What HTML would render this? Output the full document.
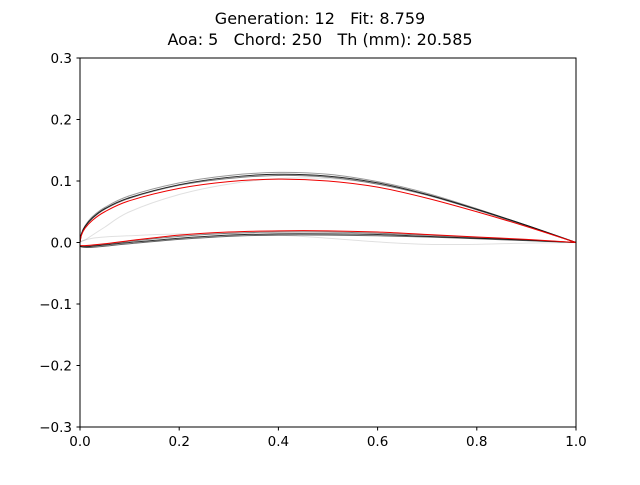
<!DOCTYPE html>
<html><head><meta charset="utf-8"><style>
body{margin:0;background:#fff;}
svg text{font-family:"DejaVu Sans","Liberation Sans",sans-serif;fill:#000;white-space:pre;}
</style></head><body>
<svg id="chart" width="640" height="480" xmlns="http://www.w3.org/2000/svg">
<rect width="640" height="480" fill="#fff"/>
<text x="320" y="24" text-anchor="middle" font-size="16" xml:space="preserve">Generation: 12   Fit: 8.759</text>
<text x="320" y="45" text-anchor="middle" font-size="16" xml:space="preserve">Aoa: 5   Chord: 250   Th (mm): 20.585</text>
<g id="plot"></g>
<rect x="80" y="58" width="496" height="369" fill="none" stroke="#000" stroke-width="1"/>
<g id="axes"></g>
</svg>
<script>
const xs=[0,0.003,0.01,0.025,0.05,0.1,0.2,0.3,0.4,0.5,0.6,0.7,0.8,0.9,1.0];
const xTicks=[0,0.2,0.4,0.6,0.8,1.0];
const xTickLabels=["0.0","0.2","0.4","0.6","0.8","1.0"];
const yTicks=[-0.3,-0.2,-0.1,0,0.1,0.2,0.3];
const yTickLabels=["\u22120.3","\u22120.2","\u22120.1","0.0","0.1","0.2","0.3"];
const faintUpper=[0,0.002,0.004,0.012,0.025,0.05,0.078,0.095,0.104,0.104,0.095,0.077,0.053,0.027,0];
const faintLower=[0,0.002,0.004,0.007,0.009,0.011,0.014,0.014,0.012,0.007,0.001,-0.003,-0.003,-0.001,0];
const blackUpper1=[0,0.014,0.026,0.04,0.055,0.073,0.094,0.106,0.111,0.108,0.097,0.078,0.054,0.028,0];
const blackUpper2=[0,0.015,0.027,0.042,0.057,0.076,0.097,0.109,0.114,0.111,0.099,0.08,0.055,0.028,0];
const blackUpper3=[0,0.013,0.025,0.039,0.054,0.072,0.093,0.104,0.109,0.106,0.095,0.077,0.053,0.027,0];
const blackLower1=[-0.006,-0.007,-0.007,-0.006,-0.004,0,0.007,0.012,0.014,0.014,0.013,0.01,0.007,0.004,0];
const blackLower2=[-0.005,-0.007,-0.008,-0.008,-0.006,-0.002,0.005,0.01,0.012,0.012,0.011,0.009,0.006,0.003,0];
const blackLower3=[-0.005,-0.006,-0.006,-0.005,-0.003,0.002,0.01,0.015,0.017,0.017,0.015,0.012,0.008,0.004,0];
const redUpper=[0,0.012,0.023,0.036,0.05,0.068,0.088,0.099,0.103,0.1,0.09,0.072,0.05,0.026,0];
const redLower=[-0.005,-0.005,-0.005,-0.004,-0.002,0.003,0.012,0.017,0.019,0.019,0.017,0.013,0.009,0.005,0];
const series=[
 {y:faintUpper,c:"#000",o:0.12,n:"faint-upper"},
 {y:faintLower,c:"#000",o:0.12,n:"faint-lower"},
 {y:blackUpper3,c:"#000",o:0.5,n:"upper-3"},
 {y:blackUpper2,c:"#000",o:0.4,n:"upper-2"},
 {y:blackUpper1,c:"#000",o:0.85,n:"upper-1"},
 {y:blackLower2,c:"#000",o:0.6,n:"lower-2"},
 {y:blackLower1,c:"#000",o:0.8,n:"lower-1"},
 {y:blackLower3,c:"#000",o:0.5,n:"lower-3"},
 {y:redUpper,c:"#e00",o:1,n:"red-upper"},
 {y:redLower,c:"#e00",o:1,n:"red-lower"}];
const X=v=>80+v*496, Y=v=>242.5-v*615;
const NS="http://www.w3.org/2000/svg";
const plot=document.getElementById('plot'), axes=document.getElementById('axes');
function path(ys){
 const p=xs.map((x,i)=>[X(x),Y(ys[i])]);
 let d=`M${p[0][0]},${p[0][1]}`;
 for(let i=0;i<p.length-1;i++){
  const p0=p[Math.max(0,i-1)],p1=p[i],p2=p[i+1],p3=p[Math.min(p.length-1,i+2)];
  const c1=[p1[0]+(p2[0]-p0[0])/6,p1[1]+(p2[1]-p0[1])/6];
  const c2=[p2[0]-(p3[0]-p1[0])/6,p2[1]-(p3[1]-p1[1])/6];
  d+=`C${c1[0]},${c1[1]} ${c2[0]},${c2[1]} ${p2[0]},${p2[1]}`;
 }
 return d;
}
series.forEach(s=>{
 const el=document.createElementNS(NS,'path');
 el.setAttribute('d',path(s.y));
 el.setAttribute('fill','none');el.setAttribute('stroke',s.c);
 el.setAttribute('stroke-opacity',s.o);el.setAttribute('stroke-width','1');
 
 
 plot.appendChild(el);
});
xTicks.forEach((t,i)=>{
 const l=document.createElementNS(NS,'line');
 l.setAttribute('x1',X(t));l.setAttribute('x2',X(t));l.setAttribute('y1',427);l.setAttribute('y2',430.5);l.setAttribute('stroke','#000');
 
 
 axes.appendChild(l);
 const tx=document.createElementNS(NS,'text');
 tx.setAttribute('x',X(t));tx.setAttribute('y',446);tx.setAttribute('text-anchor','middle');tx.setAttribute('font-size','13.5');
 tx.textContent=xTickLabels[i];
 
 
 axes.appendChild(tx);
});
yTicks.forEach((t,i)=>{
 const yy=Y(t);
 const l=document.createElementNS(NS,'line');
 l.setAttribute('x1',76.5);l.setAttribute('x2',80);l.setAttribute('y1',yy);l.setAttribute('y2',yy);l.setAttribute('stroke','#000');
 
 
 axes.appendChild(l);
 const tx=document.createElementNS(NS,'text');
 tx.setAttribute('x',72);tx.setAttribute('y',yy+5);tx.setAttribute('text-anchor','end');tx.setAttribute('font-size','13.5');
 tx.textContent=yTickLabels[i];
 
 
 axes.appendChild(tx);
});
</script>
</body></html>
